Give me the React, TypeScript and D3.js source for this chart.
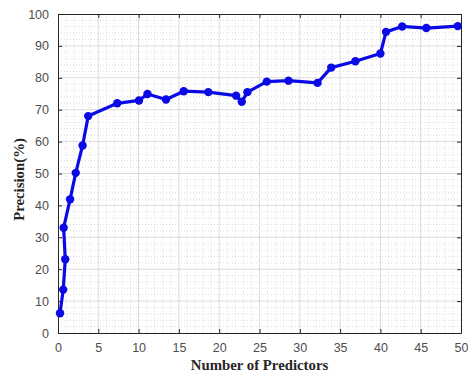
import React, { useEffect, useRef } from 'react';
import * as d3 from 'd3';

// values
const predictors = [0.25, 0.65, 0.9, 0.7, 1.5, 2.2, 3.05, 3.75, 7.35, 10.05, 11.1, 13.4, 15.6, 18.65, 22.1, 22.8, 23.5, 25.9, 28.6, 32.2, 33.9, 36.9, 40.0, 40.7, 42.7, 45.7, 49.6];
const precision = [6.2, 13.6, 23.1, 33.0, 41.9, 50.2, 58.8, 68.0, 72.0, 72.9, 74.9, 73.2, 75.8, 75.5, 74.4, 72.5, 75.5, 78.8, 79.1, 78.4, 83.2, 85.2, 87.6, 94.4, 96.1, 95.6, 96.2];
const xTicks = [0, 5, 10, 15, 20, 25, 30, 35, 40, 45, 50];
const yTicks = [0, 10, 20, 30, 40, 50, 60, 70, 80, 90, 100];

const App = () => {
    const ref = useRef<SVGSVGElement>(null);

    useEffect(() => {
        const svg = d3.select(ref.current);
        svg.selectAll('*').remove();

        const margin = { top: 14, right: 7, bottom: 41, left: 58 };
        const width = 468, height = 374;
        const innerW = width - margin.left - margin.right;
        const innerH = height - margin.top - margin.bottom;

        const x = d3.scaleLinear().domain([0, 50]).range([0, innerW]);
        const y = d3.scaleLinear().domain([0, 100]).range([innerH, 0]);

        const g = svg.append('g').attr('transform', `translate(${margin.left},${margin.top})`);

        g.append('rect').attr('width', innerW).attr('height', innerH).attr('fill', '#fff');

        // minor grid (dotted)
        const xMinor = d3.range(1, 50).filter(v => v % 5 !== 0);
        const yMinor = d3.range(2, 100, 2).filter(v => v % 10 !== 0);
        g.selectAll('.xminor').data(xMinor).join('line')
            .attr('x1', d => x(d)).attr('x2', d => x(d)).attr('y1', 0).attr('y2', innerH)
            .attr('stroke', '#c8c8c8').attr('stroke-width', 0.6).attr('stroke-dasharray', '1,2');
        g.selectAll('.yminor').data(yMinor).join('line')
            .attr('y1', d => y(d)).attr('y2', d => y(d)).attr('x1', 0).attr('x2', innerW)
            .attr('stroke', '#c8c8c8').attr('stroke-width', 0.6).attr('stroke-dasharray', '1,2');

        // major grid
        g.selectAll('.xmajor').data(xTicks.slice(1, -1)).join('line')
            .attr('x1', d => x(d)).attr('x2', d => x(d)).attr('y1', 0).attr('y2', innerH)
            .attr('stroke', '#dcdcdc').attr('stroke-width', 1);
        g.selectAll('.ymajor').data(yTicks.slice(1, -1)).join('line')
            .attr('y1', d => y(d)).attr('y2', d => y(d)).attr('x1', 0).attr('x2', innerW)
            .attr('stroke', '#dcdcdc').attr('stroke-width', 1);

        const axisColor = '#262626';
        const tickFont = 'Arial, "Liberation Sans", sans-serif';

        // axes with inward ticks
        const xAxis = g.append('g').attr('transform', `translate(0,${innerH})`)
            .call(d3.axisBottom(x).tickValues(xTicks).tickSizeInner(-4).tickSizeOuter(0).tickPadding(10));
        const yAxis = g.append('g')
            .call(d3.axisLeft(y).tickValues(yTicks).tickSizeInner(-4).tickSizeOuter(0).tickPadding(9));
        g.append('g')
            .call(d3.axisTop(x).tickValues(xTicks).tickSizeInner(-4).tickSizeOuter(0).tickFormat(() => ''));
        g.append('g').attr('transform', `translate(${innerW},0)`)
            .call(d3.axisRight(y).tickValues(yTicks).tickSizeInner(-4).tickSizeOuter(0).tickFormat(() => ''));

        g.selectAll('.domain').attr('stroke', axisColor);
        g.selectAll('.tick line').attr('stroke', axisColor);
        [xAxis, yAxis].forEach(a => a.selectAll('text')
            .attr('font-family', tickFont).attr('font-size', 12.5).attr('fill', '#4d4d4d'));

        // series
        const line = d3.line<number>()
            .x((_, i) => x(predictors[i]))
            .y(d => y(d));
        g.append('path').datum(precision)
            .attr('fill', 'none').attr('stroke', '#0a0ae6').attr('stroke-width', 3.2)
            .attr('stroke-linejoin', 'round').attr('d', line);
        g.selectAll('.pt').data(precision).join('circle')
            .attr('cx', (_, i) => x(predictors[i])).attr('cy', d => y(d)).attr('r', 4.2)
            .attr('fill', '#0a0ae6');

        // labels
        svg.append('text')
            .attr('x', margin.left + innerW / 2).attr('y', 370)
            .attr('text-anchor', 'middle')
            .attr('font-family', '"Times New Roman", "Liberation Serif", serif')
            .attr('font-weight', 'bold').attr('font-size', 14.8).attr('fill', '#262626')
            .text('Number of Predictors');
        svg.append('text')
            .attr('transform', `translate(24,${margin.top + innerH / 2 + 6}) rotate(-90)`)
            .attr('text-anchor', 'middle')
            .attr('font-family', '"Times New Roman", "Liberation Serif", serif')
            .attr('font-weight', 'bold').attr('font-size', 14.8).attr('fill', '#262626')
            .text('Precision(%)');
    }, []);

    return (
        <svg ref={ref} width={468} height={374}
            style={{ position: 'absolute', left: 0, top: 0, background: '#fff' }} />
    );
};

export default App;
